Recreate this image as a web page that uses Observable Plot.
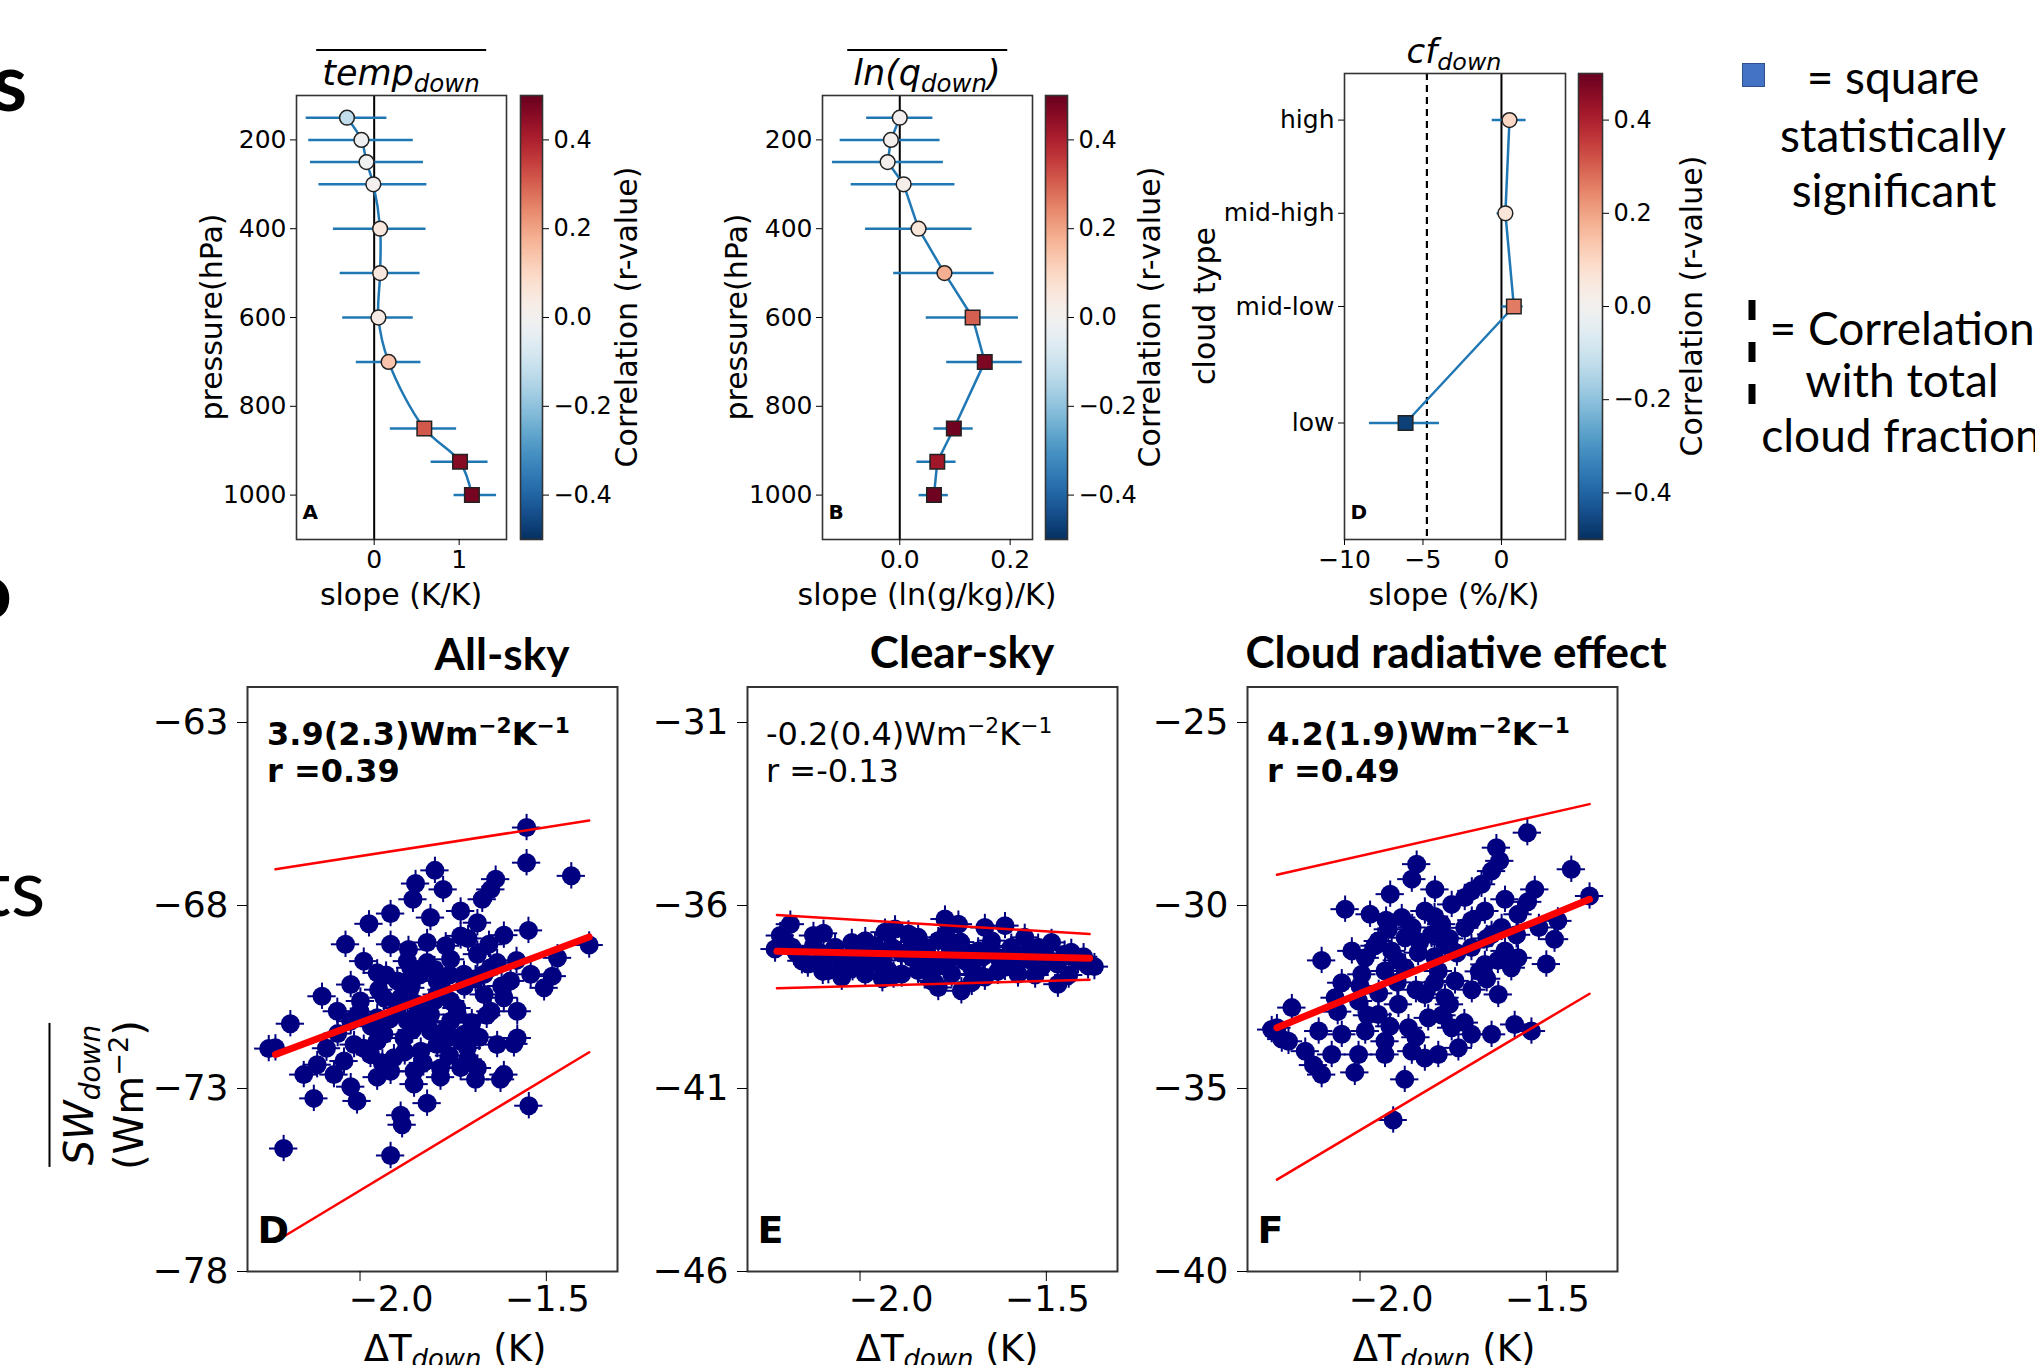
<!DOCTYPE html>
<html><head><meta charset="utf-8">
<script src="https://cdn.jsdelivr.net/npm/d3@7"></script>
<script src="https://cdn.jsdelivr.net/npm/@observablehq/plot@0.6"></script>
<style>
html,body{margin:0;padding:0;background:#fff;overflow:hidden}
#root{position:relative;width:2035px;height:1365px;overflow:hidden;background:#fff}
.t{position:absolute;white-space:nowrap;color:#000;line-height:1}
.t sub{font-size:0.7em;vertical-align:-0.28em;line-height:0}
.t sup{font-size:0.68em;vertical-align:0.55em;line-height:0}
</style></head><body><div id="root"></div>
<script>
// ---------------- DATA ----------------
// Panel A / B : pressure levels (hPa)
const pressure = [150, 200, 250, 300, 400, 500, 600, 700, 850, 925, 1000];
// A: temperature slope (K/K)
const tempSlope = [-0.32, -0.15, -0.09, -0.01, 0.07, 0.07, 0.05, 0.17, 0.59, 1.01, 1.15];
const tempLo    = [-0.80, -0.77, -0.75, -0.65, -0.48, -0.40, -0.37, -0.21, 0.19, 0.67, 0.94];
const tempHi    = [0.15, 0.46, 0.58, 0.62, 0.61, 0.54, 0.46, 0.55, 0.97, 1.34, 1.44];
const tempR     = [-0.12, -0.02, -0.01, 0.00, 0.05, 0.05, 0.03, 0.14, 0.31, 0.46, 0.48];
const tempSig   = [0, 0, 0, 0, 0, 0, 0, 0, 1, 1, 1];
// B: ln(q) slope (ln(g/kg)/K)
const qSlope = [0.000, -0.016, -0.022, 0.007, 0.034, 0.081, 0.132, 0.154, 0.098, 0.068, 0.062];
const qLo    = [-0.060, -0.108, -0.122, -0.088, -0.062, -0.011, 0.048, 0.085, 0.062, 0.031, 0.035];
const qHi    = [0.060, 0.073, 0.079, 0.100, 0.131, 0.171, 0.215, 0.222, 0.133, 0.102, 0.088];
const qR     = [0.00, 0.01, 0.01, 0.02, 0.06, 0.18, 0.30, 0.47, 0.49, 0.42, 0.49];
const qSig   = [0, 0, 0, 0, 0, 0, 1, 1, 1, 1, 1];
// D (top): cloud fraction slope (%/K)
const cloudTypes = ["high", "mid-high", "mid-low", "low"];
const cloudLevel = [200, 400, 600, 850];
const cfSlope = [0.51, 0.25, 0.79, -6.11];
const cfLo    = [-0.59, -0.28, 0.04, -8.41];
const cfHi    = [1.57, 0.68, 1.38, -3.95];
const cfR     = [0.10, 0.06, 0.26, -0.47];
const cfSig   = [0, 0, 1, 1];
const cfTotal = [-4.75];
const cbTicks = [-0.4, -0.2, 0.0, 0.2, 0.4];

// Bottom: ΔT_down (K) vs SW_down (Wm-2)
const dtTicks = [-2.0, -1.5];
const allSkyTicks = [-63, -68, -73, -78];
const clearSkyTicks = [-31, -36, -41, -46];
const creTicks = [-25, -30, -35, -40];
const allSkyPts = [[-1.553,-65.87],[-1.553,-66.83],[-1.433,-67.19],[-1.799,-67.04],[-1.851,-67.40],[-1.777,-67.56],[-1.636,-67.28],[-1.649,-67.56],[-1.672,-67.83],[-1.858,-67.83],[-1.918,-68.22],[-1.976,-68.50],[-1.811,-68.33],[-1.730,-68.15],[-1.685,-68.47],[-1.548,-68.68],[-1.614,-68.81],[-1.730,-68.83],[-2.039,-69.06],[-1.918,-69.06],[-1.820,-69.01],[-1.654,-69.06],[-1.385,-69.08],[-1.470,-69.43],[-1.990,-69.52],[-1.954,-69.84],[-1.864,-69.70],[-1.820,-69.56],[-1.757,-69.47],[-1.685,-69.33],[-1.632,-69.56],[-1.542,-69.88],[-1.484,-69.93],[-2.102,-70.48],[-2.025,-70.16],[-1.900,-70.06],[-1.864,-70.25],[-1.793,-70.06],[-1.721,-69.88],[-1.596,-70.06],[-2.061,-70.89],[-1.999,-70.61],[-1.936,-70.52],[-1.846,-70.70],[-1.757,-70.61],[-1.667,-70.43],[-1.614,-70.52],[-1.578,-70.89],[-2.187,-71.23],[-2.025,-71.16],[-1.954,-71.07],[-1.873,-71.16],[-1.811,-70.98],[-1.739,-70.98],[-1.649,-70.89],[-2.227,-71.89],[-2.016,-71.80],[-1.936,-71.52],[-1.882,-71.62],[-1.811,-71.43],[-1.766,-71.62],[-1.712,-71.89],[-1.632,-71.80],[-1.578,-71.62],[-2.115,-72.35],[-2.043,-72.25],[-1.972,-72.07],[-1.909,-72.16],[-1.837,-71.98],[-2.151,-72.62],[-2.070,-72.62],[-1.918,-72.53],[-1.855,-72.53],[-1.784,-72.44],[-1.685,-72.44],[-1.614,-72.62],[-1.873,-69.52],[-1.793,-70.43],[-1.829,-70.98],[-1.891,-70.52],[-1.757,-71.16],[-1.721,-71.52],[-1.793,-71.80],[-1.954,-71.71],[-1.667,-69.88],[-1.506,-70.25],[-2.124,-73.27],[-2.025,-72.95],[-2.008,-73.34],[-1.954,-72.69],[-1.855,-72.88],[-1.820,-73.40],[-1.784,-72.69],[-1.730,-72.43],[-1.690,-72.75],[-1.623,-72.75],[-1.587,-71.78],[-1.547,-73.47],[-1.891,-73.73],[-1.887,-73.99],[-1.918,-74.83],[-2.205,-74.64],[-2.245,-71.91],
  [-1.93,-69.9],[-1.88,-70.1],[-1.84,-69.9],[-1.80,-69.75],[-1.76,-69.9],[-1.72,-70.2],[-1.69,-70.0],[-1.95,-70.3],[-1.90,-70.8],[-1.85,-71.0],[-1.80,-70.6],[-1.78,-70.3],[-1.74,-70.8],[-1.70,-71.2],[-1.66,-71.0],[-1.97,-71.3],[-1.92,-71.1],[-1.86,-71.4],[-1.82,-71.2],[-1.77,-71.4],[-1.73,-71.7],[-1.68,-71.6],[-1.99,-71.9],[-1.94,-72.3],[-1.88,-72.0],[-1.83,-72.3],[-1.76,-72.1],[-1.71,-72.2],[-2.06,-71.5],[-2.09,-71.9],[-2.00,-70.9],[-1.62,-70.2],[-1.58,-69.5],[-1.65,-69.7],[-1.87,-69.2],[-1.77,-69.1],[-1.71,-68.9]];
const clearSkyPts = [[-2.187,-36.51],[-2.214,-36.82],[-2.228,-37.19],[-2.125,-36.82],[-2.098,-36.76],[-2.125,-37.10],[-2.156,-37.51],[-2.067,-37.14],[-2.022,-37.01],[-1.986,-36.96],[-2.031,-37.42],[-2.085,-37.78],[-2.049,-37.96],[-1.986,-37.87],[-1.951,-37.60],[-1.933,-36.73],[-1.906,-36.64],[-1.870,-36.78],[-1.915,-37.14],[-1.861,-37.42],[-1.844,-37.78],[-1.808,-38.06],[-1.790,-38.24],[-1.772,-36.37],[-1.736,-36.51],[-1.754,-37.14],[-1.719,-37.51],[-1.728,-38.33],[-1.701,-37.69],[-1.665,-36.60],[-1.647,-36.96],[-1.665,-37.96],[-1.611,-36.55],[-1.594,-37.14],[-1.611,-37.69],[-1.576,-37.87],[-1.558,-36.87],[-1.540,-37.51],[-1.513,-37.69],[-1.486,-37.01],[-1.451,-37.33],[-1.433,-37.28],[-1.388,-37.65],[-1.469,-38.15],[-1.754,-37.87],[-1.888,-37.87],[-1.826,-37.14],[-1.969,-37.33],[-2.103,-37.42],[-2.183,-37.14],[-1.415,-37.51],[-1.522,-37.14],[-1.629,-37.42],[-1.683,-37.24],[-1.790,-36.96],[-1.844,-36.87],[-1.995,-37.60],[-1.924,-37.78],[-1.371,-37.67],
  [-2.20,-37.0],[-2.17,-37.3],[-2.14,-37.6],[-2.08,-37.3],[-2.05,-37.6],[-2.02,-37.7],[-1.99,-37.3],[-1.96,-37.1],[-1.94,-37.5],[-1.91,-37.9],[-1.89,-37.3],[-1.86,-37.0],[-1.84,-37.6],[-1.82,-37.3],[-1.80,-37.7],[-1.78,-37.5],[-1.77,-36.8],[-1.75,-37.4],[-1.73,-37.0],[-1.71,-37.3],[-1.69,-37.9],[-1.67,-37.4],[-1.65,-37.1],[-1.63,-37.8],[-1.60,-37.4],[-1.58,-37.6],[-1.55,-37.3],[-1.53,-37.9],[-1.50,-37.4],[-1.47,-37.6],[-1.44,-37.9],[-1.40,-37.4],[-1.80,-38.1],[-1.94,-38.0],[-2.10,-37.8],[-1.70,-38.1]];
const crePts = [[-1.551,-28.01],[-1.634,-28.42],[-1.625,-28.78],[-1.433,-29.01],[-1.647,-29.06],[-1.848,-28.87],[-1.861,-29.28],[-1.384,-29.74],[-1.531,-29.56],[-1.611,-29.83],[-1.674,-29.42],[-1.799,-29.56],[-1.919,-29.69],[-2.040,-30.10],[-1.973,-30.24],[-1.888,-30.33],[-1.826,-30.15],[-1.754,-29.97],[-1.719,-29.78],[-1.469,-30.42],[-1.478,-30.92],[-1.576,-30.24],[-1.665,-30.15],[-1.781,-30.51],[-1.924,-30.65],[-1.951,-30.97],[-1.879,-30.88],[-1.808,-30.79],[-1.719,-30.61],[-1.647,-30.79],[-2.022,-31.24],[-2.103,-31.50],[-1.986,-31.43],[-1.915,-31.24],[-1.844,-31.29],[-1.772,-31.06],[-1.701,-31.15],[-1.611,-31.24],[-1.576,-31.43],[-2.049,-32.11],[-1.995,-31.88],[-1.933,-31.79],[-1.879,-31.70],[-1.790,-31.79],[-1.745,-32.06],[-1.665,-31.61],[-1.594,-31.70],[-1.629,-32.43],[-2.183,-32.79],[-2.067,-32.52],[-2.004,-32.61],[-1.951,-32.98],[-1.897,-32.70],[-1.826,-32.43],[-1.772,-32.52],[-2.223,-33.34],[-2.192,-33.71],[-2.111,-33.43],[-2.049,-33.52],[-1.986,-33.43],[-1.933,-33.71],[-1.870,-33.34],[-1.817,-33.07],[-1.754,-33.34],[-1.701,-33.52],[-1.647,-33.52],[-1.585,-33.25],[-1.540,-33.43],[-2.147,-33.98],[-2.076,-34.07],[-2.004,-34.07],[-1.933,-34.07],[-1.861,-33.98],[-1.790,-34.07],[-1.736,-33.89],[-2.103,-34.62],[-2.014,-34.56],[-1.880,-34.75],[-1.911,-35.86],[-1.826,-34.17],[-2.125,-34.36],[-2.210,-33.65],[-2.237,-33.39],
  [-1.93,-30.4],[-1.86,-30.6],[-1.80,-30.3],[-1.76,-30.9],[-1.70,-30.4],[-1.66,-30.9],[-1.62,-30.6],[-1.58,-30.8],[-1.96,-31.1],[-1.90,-31.5],[-1.84,-31.0],[-1.80,-31.4],[-1.74,-31.3],[-1.68,-31.8],[-1.63,-31.5],[-2.00,-32.2],[-1.95,-32.4],[-1.90,-32.1],[-1.85,-32.3],[-1.80,-32.1],[-1.76,-32.7],[-1.70,-32.3],[-1.66,-32.0],[-2.06,-32.9],[-1.98,-33.0],[-1.92,-33.3],[-1.85,-33.6],[-1.78,-33.0],[-1.72,-33.2],[-1.52,-30.6],[-1.50,-31.6],[-1.55,-29.9],[-1.70,-29.6]];
// regression line and its bands at the ends of the data range
const allSkyFit   = {x: [-2.227, -1.385], mid: [-72.07, -68.86], upper: [-67.01, -65.68], lower: [-77.18, -72.01]};
const clearSkyFit = {x: [-2.223, -1.384], mid: [-37.25, -37.44], upper: [-36.26, -36.78], lower: [-38.26, -38.03]};
const creFit      = {x: [-2.223, -1.384], mid: [-33.34, -29.83], upper: [-29.16, -27.23], lower: [-37.49, -32.41]};
const dtErr = 0.038, swErr = 0.36; // size of per-point error whiskers

// ---------------- LAYOUT ----------------
const W = 2035, H = 1365;
const root = document.getElementById("root");
const COLOR = {type: "linear", scheme: "rdbu", reverse: true, domain: [-0.5, 0.5]};
const BLUE = "#1f77b4", NAVY = "#000080";

function place(svg) {
  svg.style.position = "absolute"; svg.style.left = "0"; svg.style.top = "0";
  root.appendChild(svg);
}
function txt(html, x, y, o = {}) {
  const d = document.createElement("div");
  d.className = "t";
  d.innerHTML = html;
  d.style.left = x + "px"; d.style.top = y + "px";
  d.style.fontFamily = o.family || '"DejaVu Sans"';
  d.style.fontSize = (o.size || 30) + "px";
  if (o.weight) d.style.fontWeight = o.weight;
  if (o.italic) d.style.fontStyle = "italic";
  if (o.lh) d.style.lineHeight = o.lh;
  let tr = o.anchor === "tl" ? "" : "translate(-50%,-50%)";
  if (o.rotate) tr += ` rotate(${o.rotate}deg)`;
  d.style.transform = tr;
  if (o.align) d.style.textAlign = o.align;
  root.appendChild(d);
  return d;
}
const baseStyle = (fs) => ({background: "transparent", fontFamily: "DejaVu Sans", fontSize: fs + "px", color: "#000", overflow: "visible"});

function rows(lev, s, lo, hi, r, sig) {
  return lev.map((p, i) => ({p, s: s[i], lo: lo[i], hi: hi[i], r: r[i], sig: sig[i]}));
}

function profile({L, R, T, B, xDomain, xTicks, xFmt, yTicks, yFmt, data, curve, letter, dashed}) {
  return Plot.plot({
    width: W, height: H, marginLeft: L, marginRight: W - R, marginTop: T, marginBottom: H - B,
    style: baseStyle(25),
    x: {domain: xDomain}, y: {domain: [100, 1100], reverse: true},
    color: COLOR,
    marks: [
      Plot.ruleX([0], {stroke: "#000", strokeWidth: 2}),
      dashed ? Plot.ruleX(dashed, {stroke: "#000", strokeWidth: 2.2, strokeDasharray: "7,5"}) : null,
      Plot.ruleY(data, {y: "p", x1: "lo", x2: "hi", stroke: BLUE, strokeWidth: 2.5}),
      Plot.line(data, {x: "s", y: "p", stroke: BLUE, strokeWidth: 2.5, curve}),
      Plot.dot(data.filter(d => !d.sig), {x: "s", y: "p", r: 7.4, fill: "r", stroke: "#222", strokeWidth: 1.5}),
      Plot.dot(data.filter(d => d.sig), {x: "s", y: "p", symbol: "square", r: 8.2, fill: "r", stroke: "#222", strokeWidth: 1.5}),
      Plot.frame({stroke: "#333", strokeWidth: 1.6}),
      Plot.axisX({ticks: xTicks, tickFormat: xFmt, tickSize: 6, tickPadding: 5, label: null}),
      Plot.axisY({ticks: yTicks, tickFormat: yFmt, tickSize: 6, tickPadding: 4, label: null}),
      Plot.text([letter], {text: d => d, frameAnchor: "bottom-left", dx: 6, dy: -27, textAnchor: "start", lineAnchor: "middle", fontWeight: "bold", fontSize: 20})
    ]
  });
}

function colorbar(L, R, T, B) {
  const stripes = d3.range(-0.5, 0.5, 0.0025);
  return Plot.plot({
    width: W, height: H, marginLeft: L, marginRight: W - R, marginTop: T, marginBottom: H - B,
    style: baseStyle(24),
    x: {domain: [0, 1], axis: null}, y: {domain: [-0.5, 0.5]},
    color: COLOR,
    marks: [
      Plot.rect(stripes, {x1: 0, x2: 1, y1: d => d, y2: d => Math.min(0.5, d + 0.005), fill: d => d + 0.00125, shapeRendering: "crispEdges"}),
      Plot.frame({stroke: "#333", strokeWidth: 1.6}),
      Plot.axisY({anchor: "right", ticks: cbTicks, tickFormat: d3.format(".1f"), tickSize: 6, tickPadding: 5, label: null})
    ]
  });
}

// ---- top row ----
const TT = 95, TB = 539;
place(profile({L: 296, R: 506, T: TT, B: TB, xDomain: [-0.914, 1.557], xTicks: [0, 1], xFmt: d3.format("d"),
  yTicks: [200, 400, 600, 800, 1000], yFmt: d3.format("d"),
  data: rows(pressure, tempSlope, tempLo, tempHi, tempR, tempSig), curve: "catmull-rom", letter: "A"}));
place(colorbar(520, 542, TT, TB));
place(profile({L: 822, R: 1032, T: TT, B: TB, xDomain: [-0.140, 0.2405], xTicks: [0, 0.2], xFmt: d3.format(".1f"),
  yTicks: [200, 400, 600, 800, 1000], yFmt: d3.format("d"),
  data: rows(pressure, qSlope, qLo, qHi, qR, qSig), curve: "linear", letter: "B"}));
place(colorbar(1045, 1067, TT, TB));
place(profile({L: 1344, R: 1565, T: 73, B: TB, xDomain: [-10, 4.08], xTicks: [-10, -5, 0], xFmt: d3.format("d"),
  yTicks: cloudLevel, yFmt: d => cloudTypes[cloudLevel.indexOf(d)],
  data: rows(cloudLevel, cfSlope, cfLo, cfHi, cfR, cfSig), curve: "linear", letter: "D", dashed: cfTotal}));
place(colorbar(1578, 1602, 73, TB));

// ---- bottom row ----
const BT = 686.5, BBm = 1271;
const dtDomain = [-2.302, -1.309];
function scatter(L, R, yDom, yTicks, pts, fit, letter) {
  const mk = k => fit.x.map((x, i) => [x, fit[k][i]]);
  return Plot.plot({
    width: W, height: H, marginLeft: L, marginRight: W - R, marginTop: BT, marginBottom: H - BBm,
    style: baseStyle(36),
    x: {domain: dtDomain}, y: {domain: yDom},
    marks: [
      Plot.ruleY(pts, {y: d => d[1], x1: d => d[0] - dtErr, x2: d => d[0] + dtErr, stroke: NAVY, strokeWidth: 2}),
      Plot.ruleX(pts, {x: d => d[0], y1: d => d[1] - swErr, y2: d => d[1] + swErr, stroke: NAVY, strokeWidth: 2}),
      Plot.dot(pts, {x: d => d[0], y: d => d[1], r: 9.5, fill: NAVY}),
      Plot.line(mk("upper"), {stroke: "red", strokeWidth: 2.5}),
      Plot.line(mk("lower"), {stroke: "red", strokeWidth: 2.5}),
      Plot.line(mk("mid"), {stroke: "red", strokeWidth: 7}),
      Plot.frame({stroke: "#333", strokeWidth: 2}),
      Plot.axisY({ticks: yTicks, tickFormat: d3.format("d"), tickSize: 10, tickPadding: 9, label: null}),
      Plot.axisX({ticks: dtTicks, tickFormat: () => "", tickSize: 10, label: null}),
      Plot.text([letter], {text: d => d, frameAnchor: "bottom-left", dx: 10, dy: -41, textAnchor: "start", lineAnchor: "middle", fontWeight: "bold", fontSize: 38})
    ]
  });
}
// tick-label strip (labels sit slightly offset from the tick marks in the source figure)
function tickStrip(L, R) {
  const pos = v => L + (v - dtDomain[0]) / (dtDomain[1] - dtDomain[0]) * (R - L);
  const t0 = pos(dtTicks[0]) + 31, t1 = pos(dtTicks[1]) + 1;
  const k = (t1 - t0) / (dtTicks[1] - dtTicks[0]);
  const inv = p => dtTicks[0] + (p - t0) / k;
  return Plot.plot({
    width: W, height: H, marginLeft: L, marginRight: W - R, marginTop: BT, marginBottom: H - BBm,
    style: baseStyle(35),
    x: {domain: [inv(L), inv(R)]},
    marks: [Plot.axisX({ticks: dtTicks, tickFormat: d3.format(".1f"), tickSize: 0, tickPadding: 15, label: null})]
  });
}
const bottomFrames = [[247, 617], [747, 1117], [1247, 1617]];
place(scatter(...bottomFrames[0], [-78, -62.03], allSkyTicks, allSkyPts, allSkyFit, "D"));
place(scatter(...bottomFrames[1], [-46, -30.03], clearSkyTicks, clearSkyPts, clearSkyFit, "E"));
place(scatter(...bottomFrames[2], [-40, -24.03], creTicks, crePts, creFit, "F"));
bottomFrames.forEach(([L, R]) => place(tickStrip(L, R)));

// ---------------- TEXT ----------------
const ttl = (h) => `<span style="display:inline-block;border-top:2px solid #000;padding:5px 6px 0 6px">${h}</span>`;
txt(ttl("temp<sub>down</sub>"), 401, 70, {size: 35, italic: true});
txt(ttl("ln(q<sub>down</sub>)"), 927, 70, {size: 35, italic: true});
txt("cf<sub>down</sub>", 1454, 51, {size: 34, italic: true});

txt("pressure(hPa)", 212, 317, {size: 30, rotate: -90});
txt("slope (K/K)", 401, 595, {size: 30});
txt("Correlation (r-value)", 627, 317, {size: 30, rotate: -90});
txt("pressure(hPa)", 737, 317, {size: 30, rotate: -90});
txt("slope (ln(g/kg)/K)", 927, 595, {size: 30});
txt("Correlation (r-value)", 1150, 317, {size: 30, rotate: -90});
txt("cloud type", 1205, 306, {size: 30, rotate: -90});
txt("slope (%/K)", 1454, 595, {size: 30});
txt("Correlation (r-value)", 1692, 306, {size: 30, rotate: -90});

// legend
const sq = document.createElement("div");
Object.assign(sq.style, {position: "absolute", left: "1742px", top: "63px", width: "21px", height: "22px", background: "#4472C4", border: "1.5px solid #2F528F"});
root.appendChild(sq);
const LF = "Lato";
txt("= square", 1893, 77, {size: 46, family: LF});
txt("statistically", 1893, 135, {size: 46, family: LF});
txt("significant", 1894, 190, {size: 46, family: LF});
txt("= Correlation", 1902, 328, {size: 46, family: LF});
txt("with total", 1902, 380, {size: 46, family: LF});
txt("cloud fraction", 1901, 435, {size: 46, family: LF});
const dash = document.createElementNS("http://www.w3.org/2000/svg", "svg");
dash.setAttribute("width", "12"); dash.setAttribute("height", "110");
Object.assign(dash.style, {position: "absolute", left: "1746px", top: "299px"});
dash.innerHTML = '<line x1="6" y1="1" x2="6" y2="108" stroke="#000" stroke-width="7" stroke-dasharray="20,22"/>';
root.appendChild(dash);

// cropped text at the left edge
txt("s", 0, 40, {size: 80, weight: 700, family: LF, anchor: "tl"}).style.left = "-8px";
txt("o", 0, 548, {size: 80, weight: 700, family: LF, anchor: "tl"}).style.left = "-34px";
txt("ts", 0, 845, {size: 80, family: LF, anchor: "tl"}).style.left = "-18px";

// bottom titles
txt("All-sky", 502, 653, {size: 44, weight: 700, family: LF});
txt("Clear-sky", 962, 651, {size: 44, weight: 700, family: LF});
txt("Cloud radiative effect", 1456, 651, {size: 44, weight: 700, family: LF});

// annotations
txt("3.9(2.3)Wm<sup>−2</sup>K<sup>−1</sup><br>r =0.39", 267, 716, {size: 32, weight: 700, anchor: "tl", lh: "37px"});
txt("-0.2(0.4)Wm<sup>−2</sup>K<sup>−1</sup><br>r =-0.13", 766, 716, {size: 32, anchor: "tl", lh: "37px"});
txt("4.2(1.9)Wm<sup>−2</sup>K<sup>−1</sup><br>r =0.49", 1267, 716, {size: 32, weight: 700, anchor: "tl", lh: "37px"});

// bottom axis labels
txt('<span style="display:inline-block;border-top:2px solid #000;padding:3px 2px 0 2px;font-style:italic">SW<sub>down</sub></span><br>(Wm<sup>−2</sup>)', 101, 1095, {size: 40, rotate: -90, lh: 1.25, align: "center"});
txt("ΔT<sub><i>down</i></sub> (K)", 455, 1348, {size: 37});
txt("ΔT<sub><i>down</i></sub> (K)", 947, 1348, {size: 37});
txt("ΔT<sub><i>down</i></sub> (K)", 1444, 1348, {size: 37});
</script></body></html>
